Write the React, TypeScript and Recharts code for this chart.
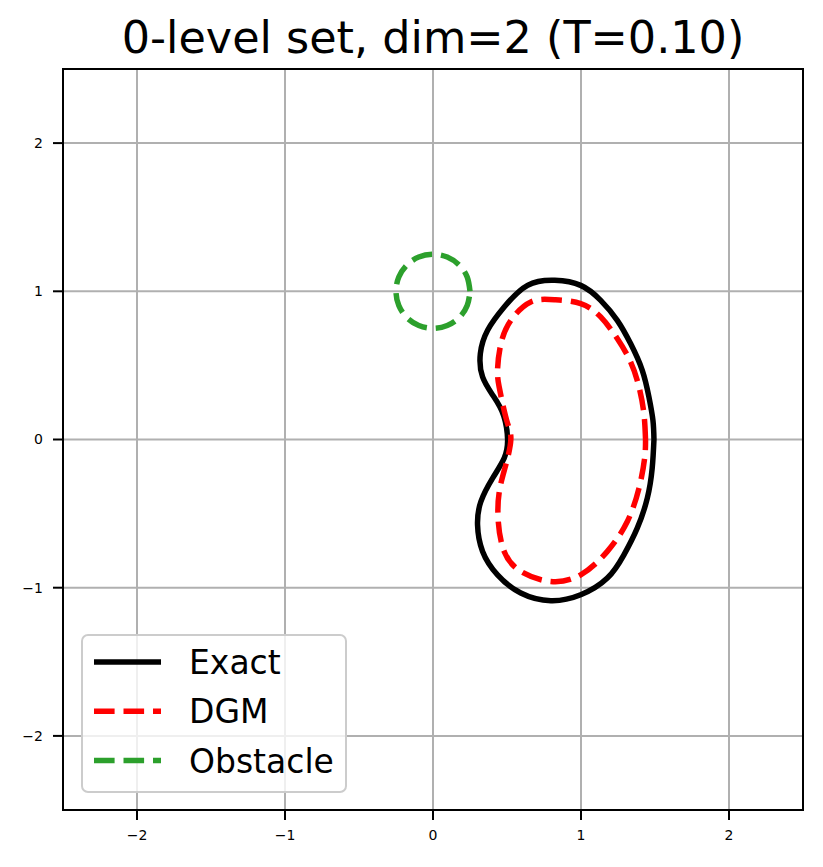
import { CartesianGrid, Line, LineChart, ReferenceArea, XAxis, YAxis } from "recharts"

const ticks = [-2, -1, 0, 1, 2]

// exact level set (rightmost point, going up and round)
const exactX = [
  1.493, 1.486, 1.459, 1.414, 1.335, 1.245, 1.133, 0.998, 0.823, 0.639, 0.481, 0.369, 0.32, 0.335, 0.41, 0.478, 0.504,
  0.481, 0.403, 0.324, 0.301, 0.335, 0.436, 0.593, 0.796, 0.998, 1.178, 1.29, 1.38, 1.448, 1.481, 1.493,
]
const exactY = [
  0, 0.13, 0.287, 0.467, 0.647, 0.804, 0.939, 1.04, 1.074, 1.04, 0.894, 0.737, 0.58, 0.422, 0.29, 0.16, 0, -0.126,
  -0.261, -0.418, -0.576, -0.755, -0.913, -1.036, -1.088, -1.048, -0.935, -0.778, -0.598, -0.396, -0.194, 0,
]

// DGM level set
const dgmX = [
  1.436, 1.425, 1.392, 1.335, 1.245, 1.133, 0.998, 0.823, 0.661, 0.526, 0.459, 0.436, 0.447, 0.47, 0.504, 0.526,
  0.492, 0.448, 0.441, 0.481, 0.593, 0.796, 0.998, 1.178, 1.313, 1.392, 1.43, 1.436,
]
const dgmY = [
  0, 0.175, 0.355, 0.524, 0.681, 0.827, 0.917, 0.943, 0.928, 0.804, 0.647, 0.467, 0.355, 0.243, 0.108, 0, -0.171,
  -0.351, -0.553, -0.755, -0.89, -0.958, -0.913, -0.755, -0.553, -0.328, -0.126, 0,
]

// obstacle circle
const obstacleX = [
  0.25, 0.231, 0.177, 0.096, 0, -0.096, -0.177, -0.231, -0.25, -0.231, -0.177, -0.096, 0, 0.096, 0.177, 0.231, 0.25,
]
const obstacleY = [
  1.0, 1.096, 1.177, 1.231, 1.25, 1.231, 1.177, 1.096, 1.0, 0.904, 0.823, 0.769, 0.75, 0.769, 0.823, 0.904, 1.0,
]

const zip = (xs: number[], ys: number[]) => xs.map((x, i) => ({ x, y: ys[i] }))

const font = "DejaVu Sans, sans-serif"
const fmt = (v: number) => String(v).replace("-", "\u2212")

function LegendBox() {
  const rows = [
    { label: "Exact", color: "#000000", dash: undefined },
    { label: "DGM", color: "#ff0000", dash: "20.6 8.9" },
    { label: "Obstacle", color: "#2ca02c", dash: "20.6 8.9" },
  ]
  return (
    <div
      style={{
        position: "absolute",
        left: 81,
        top: 634,
        width: 266,
        height: 159,
        boxSizing: "border-box",
        border: "2px solid #cccccc",
        borderRadius: 7,
        background: "rgba(255,255,255,0.8)",
      }}
    >
      <svg width={266} height={159} style={{ position: "absolute", left: -2, top: -2 }}>
        {rows.map((r, i) => (
          <g key={r.label}>
            <line
              x1={13}
              x2={80}
              y1={28 + i * 49.3}
              y2={28 + i * 49.3}
              stroke={r.color}
              strokeWidth={5.5}
              strokeDasharray={r.dash}
            />
            <text x={108} y={40 + i * 49.3} fontSize={33} fontFamily={font} fill="#000">
              {r.label}
            </text>
          </g>
        ))}
      </svg>
    </div>
  )
}

const tickStyle = { fontSize: 14, fontFamily: font, fill: "#000" }

export default function App() {
  return (
    <div style={{ position: "absolute", left: 0, top: 0, width: 823, height: 867, background: "#fff" }}>
      <div
        style={{
          position: "absolute",
          left: 0,
          width: 866,
          top: 16,
          textAlign: "center",
          fontFamily: font,
          fontSize: 44.5,
          lineHeight: 1,
          color: "#000",
          whiteSpace: "nowrap",
        }}
      >
        0-level set, dim=2 (T=0.10)
      </div>
      <LineChart width={823} height={867} margin={{ top: 69, right: 20, bottom: 0, left: 0 }}>
        <CartesianGrid stroke="#b0b0b0" strokeWidth={2} />
        <XAxis
          dataKey="x"
          type="number"
          domain={[-2.5, 2.5]}
          ticks={ticks}
          height={57}
          allowDataOverflow
          tickFormatter={fmt}
          tick={tickStyle}
          tickSize={10}
          tickMargin={10}
          axisLine={{ stroke: "#000", strokeWidth: 2 }}
          tickLine={{ stroke: "#000", strokeWidth: 2 }}
        />
        <YAxis
          dataKey="y"
          type="number"
          domain={[-2.5, 2.5]}
          ticks={ticks}
          width={63}
          allowDataOverflow
          tickFormatter={fmt}
          tick={tickStyle}
          tickSize={10}
          tickMargin={10}
          axisLine={{ stroke: "#000", strokeWidth: 2 }}
          tickLine={{ stroke: "#000", strokeWidth: 2 }}
        />
        <ReferenceArea x1={-2.5} x2={2.5} y1={-2.5} y2={2.5} fill="none" stroke="#000" strokeWidth={2} />
        <Line
          data={zip(exactX, exactY)}
          dataKey="y"
          type="natural"
          stroke="#000000"
          strokeWidth={5.5}
          dot={false}
          activeDot={false}
          isAnimationActive={false}
        />
        <Line
          data={zip(dgmX, dgmY)}
          dataKey="y"
          type="natural"
          stroke="#ff0000"
          strokeWidth={5.5}
          strokeDasharray="20.6 8.9"
          dot={false}
          activeDot={false}
          isAnimationActive={false}
        />
        <Line
          data={zip(obstacleX, obstacleY)}
          dataKey="y"
          type="natural"
          stroke="#2ca02c"
          strokeWidth={5.5}
          strokeDasharray="20.6 8.9"
          dot={false}
          activeDot={false}
          isAnimationActive={false}
        />
      </LineChart>
      <LegendBox />
    </div>
  )
}
